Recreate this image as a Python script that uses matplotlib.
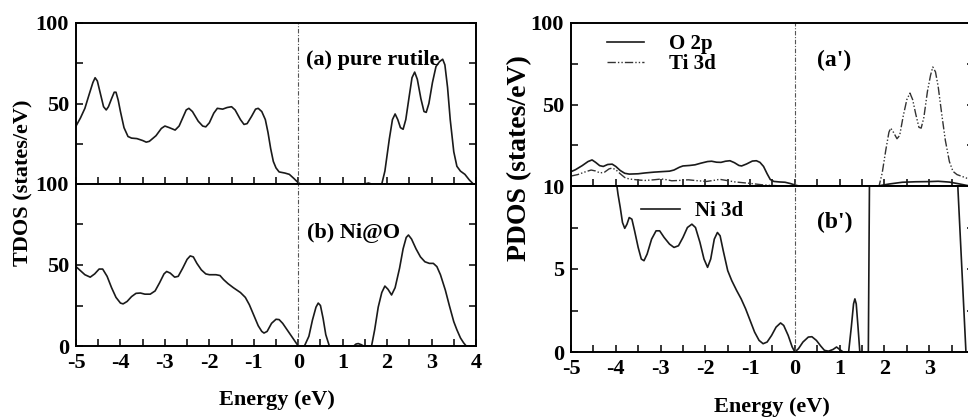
import matplotlib.pyplot as plt
from matplotlib.ticker import MultipleLocator

# TDOS, pure rutile (panel a)
pure_E = [-5.0, -4.9, -4.8, -4.7, -4.62, -4.57, -4.52, -4.45, -4.38, -4.32, -4.27, -4.2,
          -4.14, -4.1, -4.05, -4.0, -3.92, -3.83, -3.75, -3.63, -3.5, -3.42, -3.35, -3.2,
          -3.08, -3.0, -2.9, -2.77, -2.68, -2.6, -2.52, -2.46, -2.38, -2.25, -2.15, -2.08,
          -2.0, -1.9, -1.82, -1.7, -1.6, -1.5, -1.42, -1.3, -1.22, -1.15, -1.05, -0.96,
          -0.9, -0.82, -0.74, -0.68, -0.62, -0.56, -0.5, -0.43, -0.3, -0.2, -0.1, 0.0,
          0.05, 1.5, 1.58, 1.65, 1.88, 1.95, 2.05, 2.12, 2.18, 2.24, 2.3, 2.36, 2.42,
          2.5, 2.56, 2.62, 2.68, 2.76, 2.83, 2.88, 2.94, 3.02, 3.1, 3.18, 3.25, 3.3,
          3.36, 3.42, 3.5, 3.57, 3.65, 3.75, 3.85, 3.94, 4.0]
pure_dos = [36, 41, 47, 56, 63, 66, 64, 56, 48, 46, 48, 53,
            57, 57, 52, 45, 35, 29.5, 28.5, 28.2, 27, 26, 26.5, 30,
            34.5, 36, 35, 33.5, 36, 41, 46, 47, 45, 39, 36, 35.5,
            38, 44, 47, 46.5, 47.5, 48, 46, 40, 37, 37.5, 42, 46.5,
            47, 45, 40, 32, 22, 14, 10, 7.5, 6.8, 6, 3.5, 0.8,
            0, 0, 0.6, 0, 0, 8, 28, 40, 43.5, 40, 35, 34, 40,
            55, 66, 69.5, 65, 53, 45, 44.5, 50, 63, 73, 76, 77.5, 74,
            60, 40, 20, 11, 8, 6, 2.5, 0, 0]

# TDOS, Ni@O (panel b)
nio_E = [-5.0, -4.92, -4.8, -4.68, -4.58, -4.48, -4.4, -4.3, -4.2, -4.1, -4.0, -3.94,
         -3.85, -3.75, -3.65, -3.55, -3.45, -3.33, -3.22, -3.12, -3.02, -2.96, -2.88,
         -2.78, -2.7, -2.6, -2.5, -2.43, -2.36, -2.28, -2.18, -2.08, -2.0, -1.85, -1.76,
         -1.68, -1.58, -1.46, -1.3, -1.19, -1.1, -1.0, -0.9, -0.82, -0.77, -0.7, -0.6,
         -0.5, -0.43, -0.35, -0.25, -0.15, -0.05, 0.0, 0.14, 0.24, 0.32, 0.4, 0.45,
         0.5, 0.56, 0.62, 0.7, 1.25, 1.3, 1.35, 1.42, 1.47, 1.65, 1.72, 1.8, 1.88,
         1.95, 2.02, 2.1, 2.18, 2.28, 2.36, 2.43, 2.48, 2.55, 2.65, 2.75, 2.85, 2.95,
         3.04, 3.12, 3.2, 3.31, 3.4, 3.5, 3.57, 3.65, 3.72, 3.78, 4.0]
nio_dos = [49, 47, 44, 42.5, 44.5, 47.5, 47.5, 43, 36, 30, 26.5, 26,
           27.5, 30.5, 32.5, 32.7, 32, 32, 34, 39, 44.5, 46, 45,
           42.5, 43, 48, 53.5, 55.6, 55, 51, 47, 44.5, 44, 44, 43.5,
           41, 38.5, 36, 33, 30, 25.5, 19, 12.5, 9, 8, 9, 14,
           16.5, 16.3, 14, 10, 6, 2, 0, 0, 6, 16, 24, 26.5,
           25, 17, 7, 0, 0, 1.2, 1.5, 0.8, 0, 0, 10, 24, 33,
           37, 35, 31.5, 36, 48, 60, 67, 68.5, 66, 60, 55, 52, 51,
           51, 49, 44, 34.5, 25, 15, 10, 5, 2, 0, 0]

# PDOS, pure rutile (panel a')
o2p_E = [-5.0, -4.9, -4.75, -4.62, -4.53, -4.45, -4.36, -4.28, -4.18, -4.08, -4.0, -3.9,
         -3.8, -3.7, -3.5, -3.35, -3.15, -2.98, -2.8, -2.7, -2.58, -2.5, -2.35, -2.23,
         -2.1, -1.95, -1.86, -1.75, -1.65, -1.55, -1.45, -1.35, -1.25, -1.19, -1.08,
         -0.95, -0.86, -0.78, -0.7, -0.62, -0.55, -0.47, -0.35, -0.22, -0.1, 0.04, 0.1,
         1.85, 2.1, 2.4, 2.7, 3.0, 3.2, 3.45, 3.65, 3.85, 4.0]
o2p_dos = [8.8, 10, 12.5, 15, 16, 14.5, 12.5, 12, 13.2, 13.4, 12, 9.5,
           7.8, 7.3, 7.5, 8, 8.5, 8.8, 9.1, 9.8, 11.5, 12.3, 12.6, 13,
           14, 15, 15.2, 14.6, 14.5, 15.2, 15.5, 14.3, 12.6, 12.3, 13.5,
           15.3, 15.5, 14.5, 12, 7.5, 4, 2.8, 2.5, 2.3, 1.5, 0.3, 0,
           0, 1.2, 2.3, 2.6, 2.7, 2.9, 2.4, 1.4, 0.3, 0]
ti3d_E = [-5.0, -4.85, -4.7, -4.55, -4.45, -4.35, -4.25, -4.15, -4.08, -4.0, -3.9, -3.8,
          -3.7, -3.5, -3.35, -3.15, -2.98, -2.85, -2.75, -2.6, -2.38, -2.2, -1.97, -1.8,
          -1.68, -1.55, -1.34, -1.15, -1.0, -0.75, -0.5, -0.2, 1.88, 1.95, 2.03, 2.1,
          2.14, 2.2, 2.28, 2.34, 2.42, 2.5, 2.57, 2.63, 2.7, 2.77, 2.82, 2.88, 2.96,
          3.03, 3.08, 3.14, 3.2, 3.28, 3.36, 3.45, 3.53, 3.62, 3.72, 3.83, 3.92, 4.0]
ti3d_dos = [6.1, 7, 8.5, 9.8, 9.2, 8, 8.5, 10.5, 11, 10, 7.5, 5.2,
            4.3, 3.7, 3.4, 3.8, 4.3, 3.8, 3.2, 3.4, 3.8, 3.3, 2.8, 3.5,
            4.1, 3.5, 2.5, 2.0, 1.6, 0.8, 0.3, 0, 0, 8, 22, 33,
            35.5, 33, 29, 31, 43, 53, 57, 53, 44, 36, 35.5, 42, 58,
            68, 73, 70, 61, 44, 28, 15, 9, 7, 6, 4.9, 3, 1.5]

# PDOS, Ni 3d in Ni@O (panel b')
ni3d_E = [-5.0, -4.5, -4.1, -3.98, -3.95, -3.9, -3.85, -3.8, -3.75, -3.7, -3.64, -3.58,
          -3.5, -3.43, -3.37, -3.3, -3.2, -3.1, -3.02, -2.92, -2.8, -2.7, -2.6, -2.5,
          -2.4, -2.3, -2.22, -2.12, -2.03, -1.95, -1.88, -1.8, -1.73, -1.67, -1.6, -1.5,
          -1.41, -1.3, -1.2, -1.1, -1.0, -0.9, -0.8, -0.71, -0.62, -0.52, -0.42, -0.32,
          -0.25, -0.15, -0.06, 0.0, 0.08, 0.18, 0.3, 0.38, 0.48, 0.58, 0.66, 0.75, 0.85,
          0.93, 1.0, 1.08, 1.2, 1.26, 1.31, 1.34, 1.37, 1.41, 1.45, 1.64, 1.67, 2.5,
          3.0, 3.62, 3.82, 4.0]
ni3d_dos = [22, 16, 11.5, 10.1, 9.5, 8.7, 7.8, 7.45, 7.7, 8.1, 8.0, 7.3,
            6.3, 5.6, 5.5, 5.9, 6.8, 7.3, 7.3, 6.9, 6.5, 6.3, 6.4, 6.9,
            7.5, 7.7, 7.5, 6.6, 5.6, 5.1, 5.6, 6.8, 7.2, 7.0, 6.1, 4.9,
            4.3, 3.7, 3.2, 2.6, 1.9, 1.2, 0.7, 0.5, 0.6, 1.0, 1.5, 1.75,
            1.6, 1.0, 0.3, 0, 0.2, 0.6, 0.9, 0.92, 0.7, 0.35, 0.1, 0.05, 0.15,
            0.3, 0.15, 0, 0, 1.5, 2.9, 3.2, 2.9, 1.5, 0, 0, 12, 40,
            40, 11, 0, 0]

plt.rcParams["font.family"] = ["Liberation Serif", "DejaVu Serif"]
plt.rcParams["font.weight"] = "bold"
plt.rcParams["axes.unicode_minus"] = False

W, H = 968, 418
fig = plt.figure(figsize=(W / 100, H / 100), dpi=100)


def box(x0, y0, x1, y1):
    # pixel box -> figure fraction [left, bottom, width, height]
    return [x0 / W, 1 - y1 / H, (x1 - x0) / W, (y1 - y0) / H]


ax_a = fig.add_axes(box(76, 23, 476, 184))
ax_b = fig.add_axes(box(76, 184, 476, 346))
ax_a2 = fig.add_axes(box(571, 23, 974, 186))
ax_b2 = fig.add_axes(box(571, 186, 974, 352))

line_kw = dict(color="#1a1a1a", linewidth=1.2)
ti_dash = (0, (6, 1.5, 1, 1.5, 1, 1.5))

ax_a.plot(pure_E, pure_dos, **line_kw)
ax_b.plot(nio_E, nio_dos, **line_kw)
ax_a2.plot(o2p_E, o2p_dos, label="O 2p", **line_kw)
ax_a2.plot(ti3d_E, ti3d_dos, label="Ti 3d", color="#333333", linewidth=1.0,
           linestyle=ti_dash)
ax_b2.plot(ni3d_E, ni3d_dos, label="Ni 3d", **line_kw)

for ax, ymax, ymaj, ymin in [(ax_a, 100, 50, 25), (ax_b, 100, 50, 25),
                             (ax_a2, 100, 50, 25), (ax_b2, 10, 5, 2.5)]:
    ax.set_xlim(-5, 4)
    ax.set_ylim(0, ymax)
    ax.axvline(0, color="#555555", linewidth=0.8, linestyle=(0, (4, 1.5, 1, 1.5)))
    ax.xaxis.set_major_locator(MultipleLocator(1))
    ax.xaxis.set_minor_locator(MultipleLocator(0.5))
    ax.yaxis.set_major_locator(MultipleLocator(ymaj))
    ax.yaxis.set_minor_locator(MultipleLocator(ymin))
    ax.tick_params(which="both", direction="in", right=True, top=False,
                   labelsize=16, pad=5, width=1.1, length=5)
    for s in ax.spines.values():
        s.set_linewidth(1.4)

for ax in (ax_a, ax_a2):
    ax.tick_params(labelbottom=False)
    ax.set_yticks([50, 100])
ax_b.set_yticks([0, 50, 100])
ax_b2.set_yticks([0, 5, 10])

ax_a.text(0.575, 0.77, "(a) pure rutile", transform=ax_a.transAxes,
          fontsize=16, fontweight="bold", va="center")
ax_b.text(0.577, 0.70, "(b) Ni@O", transform=ax_b.transAxes,
          fontsize=16, fontweight="bold", va="center")
ax_a2.text(0.61, 0.773, "(a')", transform=ax_a2.transAxes,
           fontsize=17, fontweight="bold", va="center")
ax_b2.text(0.61, 0.78, "(b')", transform=ax_b2.transAxes,
           fontsize=17, fontweight="bold", va="center")

ax_a2.legend(loc="upper left", bbox_to_anchor=(0.089, 0.93), frameon=False,
             fontsize=15, handlelength=1.8, handletextpad=1.2, labelspacing=0.0,
             borderpad=0, borderaxespad=0)
ax_b2.legend(loc="upper left", bbox_to_anchor=(0.174, 0.91), frameon=False,
             fontsize=15, handlelength=1.85, handletextpad=0.75,
             borderpad=0, borderaxespad=0)

fig.text(23 / W, 1 - 183 / H, "TDOS (states/eV)", rotation=90, fontsize=16,
         fontweight="bold", ha="center", va="center")
fig.text(520 / W, 1 - 158 / H, "PDOS (states/eV)", rotation=90, fontsize=20,
         fontweight="bold", ha="center", va="center")
fig.text(277 / W, 1 - 400 / H, "Energy (eV)", fontsize=16, fontweight="bold",
         ha="center", va="center")
fig.text(772 / W, 1 - 407 / H, "Energy (eV)", fontsize=16, fontweight="bold",
         ha="center", va="center")

fig.savefig("out.png", dpi=100)
plt.close(fig)
